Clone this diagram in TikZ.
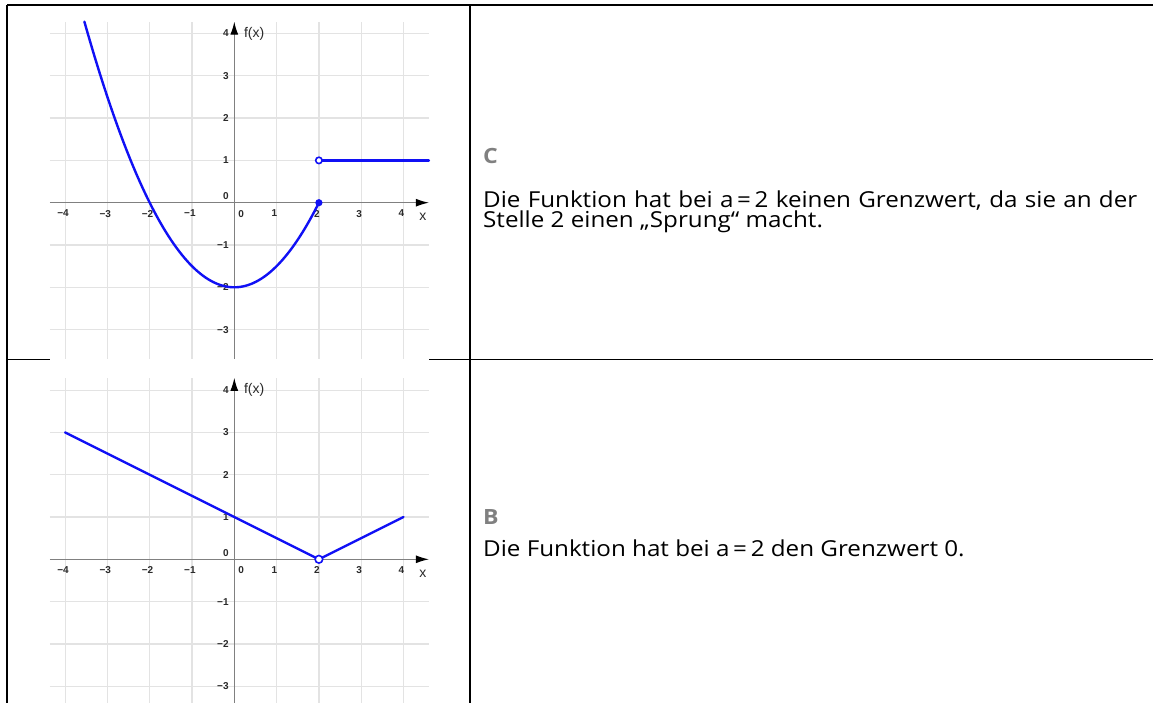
\documentclass[tikz,border=0pt]{standalone}
\usepackage{fontspec}
\setmainfont[FakeStretch=1.10]{Open Sans}
\newfontfamily\axfont{Liberation Sans}
\usetikzlibrary{arrows.meta}
\definecolor{gridc}{HTML}{E3E3E3}
\definecolor{axisc}{HTML}{808080}
\definecolor{curvec}{HTML}{1010F5}
\definecolor{labc}{HTML}{2A2A2A}
\definecolor{lettc}{HTML}{808080}
\tikzset{
  border/.style={line width=1.5pt, black},
  gridline/.style={line width=1.2pt, gridc},
  axisline/.style={line width=1.3pt, axisc, -{Latex[length=13pt,width=8pt,black]}},
  curve/.style={line width=2.4pt, curvec, line cap=round, line join=round},
  ticklab/.style={font=\axfont\bfseries\fontsize{10}{12}\selectfont, text=labc, inner sep=0pt},
  axlab/.style={font=\axfont\fontsize{14}{16}\selectfont, text=labc, inner sep=0pt},
  openpt/.style={draw=curvec, line width=1.6pt, fill=white},
  fullpt/.style={fill=curvec},
  body/.style={font=\fontsize{22}{24}\selectfont, text=black, inner sep=0pt, anchor=base west},
  letter/.style={font=\bfseries\fontsize{21}{24}\selectfont, text=lettc, inner sep=0pt, anchor=base west},
}
\begin{document}
\begin{tikzpicture}[x=1pt,y=-1pt]
\useasboundingbox (0,0) rectangle (1153,703);
\fill[white] (0,0) rectangle (1153,703);

% ---------- graph 1 ----------
\begin{scope}[shift={(234.3pt,-202.7pt)}, x=42.3pt, y=42.3pt]
  \foreach \i in {-4,...,4} \draw[gridline] (\i,-3.69) -- (\i,4.28);
  \foreach \j in {-3,...,4} \draw[gridline] (-4.36,\j) -- (4.6,\j);
  \draw[axisline] (-4.36,0) -- (4.6,0);
  \draw[axisline] (0,-3.69) -- (0,4.28);
  \foreach \i/\t in {-4/−4,-3/−3,-2/−2,-1/−1,1/1,2/2,3/3,4/4}
    \node[ticklab, anchor=north] at (\i-0.05,-0.17) {\t};
  \node[ticklab, anchor=north] at (0.16,-0.17) {0};
  \foreach \j/\t in {-3/−3,-2/−2,-1/−1,1/1,2/2,3/3,4/4}
    \node[ticklab, anchor=east] at (-0.13,\j) {\t};
  \node[ticklab, anchor=south east] at (-0.13,0.06) {0};
  \node[axlab] (fx1) at (0.47,4.0) {f(x)};
  \node[axlab] (x1) at (4.46,-0.34) {x};
  \draw[curve] plot[domain=-3.544:2, samples=90] (\x, {0.5*\x*\x-2});
  \draw[curve] (2,1) -- (4.6,1);
  \coordinate (jumpT) at (2,1);
  \coordinate (jumpB) at (2,0);
  \fill[fullpt] (jumpB) circle (3.6pt);
  \draw[openpt] (jumpT) circle (3.2pt);
\end{scope}

% ---------- graph 2 ----------
\begin{scope}[shift={(234.3pt,-559.3pt)}, x=42.3pt, y=42.3pt]
  \foreach \i in {-4,...,4} \draw[gridline] (\i,-3.5) -- (\i,4.29);
  \foreach \j in {-3,...,4} \draw[gridline] (-4.36,\j) -- (4.6,\j);
  \draw[axisline] (-4.36,0) -- (4.6,0);
  \draw[axisline] (0,-3.5) -- (0,4.29);
  \foreach \i/\t in {-4/−4,-3/−3,-2/−2,-1/−1,1/1,2/2,3/3,4/4}
    \node[ticklab, anchor=north] at (\i-0.05,-0.17) {\t};
  \node[ticklab, anchor=north] at (0.16,-0.17) {0};
  \foreach \j/\t in {-3/−3,-2/−2,-1/−1,1/1,2/2,3/3,4/4}
    \node[ticklab, anchor=east] at (-0.13,\j) {\t};
  \node[ticklab, anchor=south east] at (-0.13,0.06) {0};
  \node[axlab] (fx2) at (0.47,4.0) {f(x)};
  \node[axlab] (x2) at (4.46,-0.34) {x};
  \coordinate (p1) at (-4,3);
  \coordinate (p2) at (2,0);
  \coordinate (p3) at (4,1);
  \draw[curve] (p1) -- (p2) -- (p3);
  \draw[openpt] (p2) circle (3.8pt);
\end{scope}

% ---------- table borders ----------
\draw[border] (7,5) -- (1153,5);
\draw[border] (7,5) -- (7,703);
\draw[border] (470,5) -- (470,703);
\draw[border] (7,359.5) -- (50,359.5);
\draw[border] (429,359.5) -- (1153,359.5);

% ---------- texts ----------
\node[letter] (labC) at (483,164) {C};
\node[body] (c1) at (483,208) {\hbox to 654pt{Die Funktion hat bei a\,=\,2 keinen Grenzwert, da sie an der}};
\node[body] (c2) at (483,228) {Stelle 2 einen „Sprung“ macht.};
\node[letter] (labB) at (483,524) {B};
\node[body] (b1) at (483,556) {Die Funktion hat bei a\,=\,2 den Grenzwert 0.};
\end{tikzpicture}
\end{document}
